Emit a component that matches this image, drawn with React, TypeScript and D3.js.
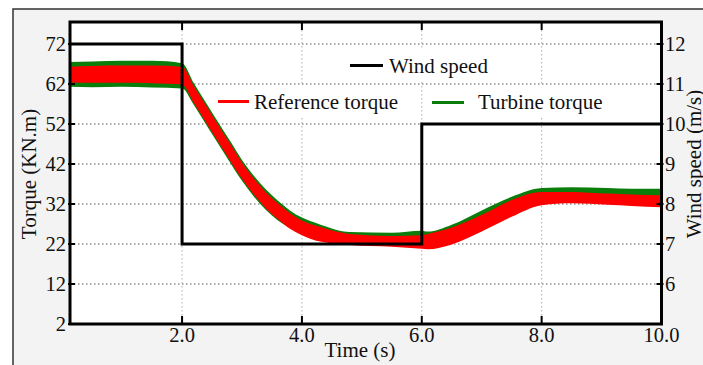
import React from "react";
import * as d3 from "d3";

// ---- data ----
const time = [0.13, 0.5, 1.0, 1.5, 2.0, 2.2, 2.4, 2.6, 2.8, 3.0, 3.2, 3.4, 3.6, 3.8, 4.0, 4.3, 4.8, 5.5, 6.0, 6.1, 6.5, 7.0, 7.5, 8.0, 8.5, 9.1, 9.5, 10.0];
const refLower = [62.4, 62.3, 62.3, 62.2, 61.9, 57.2, 52.4, 47.6, 42.9, 38.3, 34.3, 30.9, 28.2, 25.8, 24.2, 22.6, 21.75, 21.3, 20.8, 20.7, 21.9, 25.1, 28.8, 31.7, 32.2, 31.8, 31.5, 31.2];
const refUpper = [66.3, 66.5, 66.6, 66.6, 66.3, 61.4, 56.6, 51.8, 47.1, 42.3, 38.3, 34.9, 32.1, 29.7, 27.9, 26.3, 24.5, 24.0, 24.2, 24.5, 26.1, 29.3, 33.0, 35.0, 35.0, 34.6, 34.4, 34.2];
const turbLower = [61.3, 61.2, 61.3, 61.1, 60.9, 56.7, 51.9, 47.1, 42.4, 37.8, 33.8, 30.5, 27.9, 26.1, 24.8, 23.3, 22.4, 22.2, 22.3, 22.4, 23.0, 26.0, 29.5, 32.6, 32.8, 32.6, 32.5, 32.3];
const turbUpper = [67.5, 67.6, 67.8, 67.8, 67.2, 62.1, 57.3, 52.5, 47.8, 43.0, 39.0, 35.6, 32.8, 30.4, 28.6, 26.9, 25.0, 24.8, 25.3, 25.1, 26.8, 30.4, 33.8, 36.0, 36.2, 36.0, 35.8, 35.8];

const windTime = [0.13, 2.0, 2.0, 6.0, 6.0, 10.0];
const windSpeed = [12, 12, 7, 7, 10, 10];

const xTicks = [2.0, 4.0, 6.0, 8.0, 10.0];
const yLeftTicks = [2, 12, 22, 32, 42, 52, 62, 72];
const yRightTicks = [6, 7, 8, 9, 10, 11, 12];

const FONT = "'Liberation Serif', 'Times New Roman', serif";

export default function App() {
  const W = 703, H = 365;
  const L = 70, R = 661.5, T = 22, B = 324;
  const x = d3.scaleLinear().domain([0.13, 10]).range([L, R]);
  const yL = d3.scaleLinear().domain([2, 77.5]).range([B, T]);
  const yR = d3.scaleLinear().domain([5, 12.55]).range([B, T]);

  const idx = time.map((_, i) => i);
  const areaTurb = d3.area<number>().x(i => x(time[i])).y0(i => yL(turbLower[i])).y1(i => yL(turbUpper[i])).curve(d3.curveMonotoneX);
  const areaRef = d3.area<number>().x(i => x(time[i])).y0(i => yL(refLower[i])).y1(i => yL(refUpper[i])).curve(d3.curveMonotoneX);
  const windLine = d3.line<number>().x(i => x(windTime[i])).y(i => yR(windSpeed[i]));

  return (
    <svg width={W} height={H} style={{ position: "absolute", left: 0, top: 0 }} fontFamily={FONT}>
      <rect x={0} y={0} width={W} height={H} fill="#ffffff" />
      <rect x={13} y={9} width={W + 20} height={H + 20} fill="#f3f3f3" stroke="#333" strokeWidth={1.5} />
      <rect x={L} y={T} width={R - L} height={B - T} fill="#ffffff" />
      {/* grid */}
      {yLeftTicks.filter(t => t > 2).map(t => (
        <line key={"gy" + t} x1={L} x2={R} y1={yL(t)} y2={yL(t)} stroke="#555" strokeWidth={1} strokeDasharray="1.5,2.5" />
      ))}
      {xTicks.filter(t => t < 10).map(t => (
        <line key={"gx" + t} x1={x(t)} x2={x(t)} y1={T} y2={B} stroke="#aaa" strokeWidth={1} strokeDasharray="1.5,2.5" />
      ))}
      {/* legend backgrounds */}
      <rect x={345} y={49} width={160} height={33} fill="#fff" />
      <rect x={213} y={86} width={192} height={32} fill="#fff" />
      <rect x={428} y={86} width={182} height={32} fill="#fff" />
      {/* data */}
      <path d={areaTurb(idx) || ""} fill="#0a7d0a" />
      <path d={areaRef(idx) || ""} fill="#ff0000" />
      <path d={windLine(windTime.map((_, i) => i)) || ""} fill="none" stroke="#000" strokeWidth={3} />
      {/* axes box */}
      <rect x={L} y={T} width={R - L} height={B - T} fill="none" stroke="#000" strokeWidth={3} />
      {/* x ticks */}
      {xTicks.map(t => (
        <g key={"xt" + t}>
          <line x1={x(t)} x2={x(t)} y1={B} y2={B - 8} stroke="#000" strokeWidth={2} />
          <line x1={x(t)} x2={x(t)} y1={T} y2={T + 8} stroke="#000" strokeWidth={2} />
          <text x={x(t)} y={342} textAnchor="middle" fontSize={20.5} fill="#111">{t.toFixed(1)}</text>
        </g>
      ))}
      {/* left ticks */}
      {yLeftTicks.map(t => (
        <g key={"yl" + t}>
          <line x1={L - 2} x2={L + 5} y1={yL(t)} y2={yL(t)} stroke="#000" strokeWidth={2} />
          <text x={66} y={yL(t) + 7} textAnchor="end" fontSize={20.5} fill="#111">{t}</text>
        </g>
      ))}
      {/* right ticks */}
      {yRightTicks.map(t => (
        <g key={"yr" + t}>
          <line x1={R - 5} x2={R + 2} y1={yR(t)} y2={yR(t)} stroke="#000" strokeWidth={2} />
          <text x={665} y={yR(t) + 7} textAnchor="start" fontSize={20.5} fill="#111">{t}</text>
        </g>
      ))}
      {/* axis titles */}
      <text transform="translate(36,174) rotate(-90)" textAnchor="middle" fontSize={21} fill="#111">Torque (KN.m)</text>
      <text transform="translate(701,164) rotate(-90)" textAnchor="middle" fontSize={21} fill="#111">Wind speed (m/s)</text>
      <text x={360} y={357} textAnchor="middle" fontSize={21} fill="#111">Time (s)</text>
      {/* legend */}
      <line x1={350} x2={383} y1={65.5} y2={65.5} stroke="#000" strokeWidth={3} />
      <text x={389} y={73} fontSize={21} fill="#111">Wind speed</text>
      <line x1={218} x2={249} y1={101.5} y2={101.5} stroke="#ff0000" strokeWidth={3} />
      <text x={254} y={109} fontSize={21} fill="#111">Reference torque</text>
      <line x1={432} x2={464} y1={102.5} y2={102.5} stroke="#0a7d0a" strokeWidth={3} />
      <text x={478} y={109} fontSize={21} fill="#111">Turbine torque</text>
    </svg>
  );
}
